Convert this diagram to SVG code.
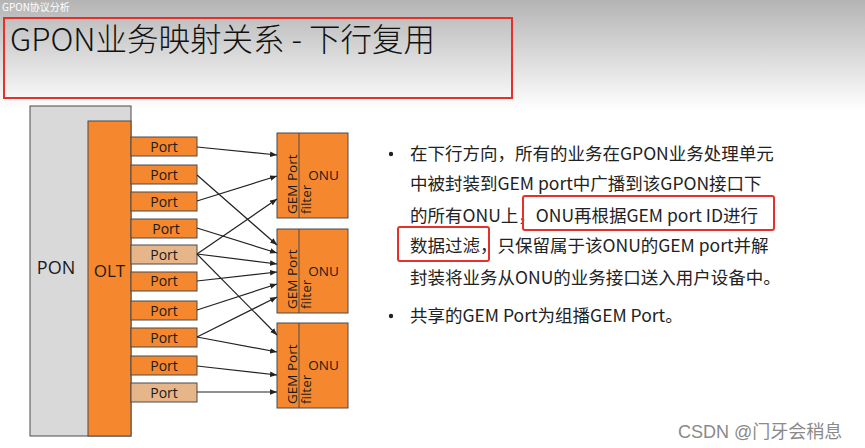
<svg xmlns="http://www.w3.org/2000/svg" width="865" height="448" viewBox="0 0 865 448">
<defs>
<linearGradient id="bg" x1="0" y1="0" x2="0" y2="1">
<stop offset="0" stop-color="#b4b4b4"/>
<stop offset="1" stop-color="#ffffff"/>
</linearGradient>
<marker id="ah" viewBox="0 0 10 10" refX="10" refY="5" markerWidth="7" markerHeight="7" markerUnits="userSpaceOnUse" orient="auto">
<path d="M0,1 L10,5 L0,9 z" fill="#222"/>
</marker>
<style>
.lbl{font-family:"Open Sans","Noto Sans",sans-serif;fill:#1a1a1a}
.port{fill:#f5882e;stroke:#4a4a4a;stroke-width:1}
.port2{fill:#e6b68a;stroke:#4a4a4a;stroke-width:1}
.onu{fill:#f5882e;stroke:#4a4a4a;stroke-width:1}
.pt{font-size:14px;text-anchor:middle}
.gem{font-size:13.5px}
.cn{font-family:"Noto Sans CJK SC","Noto Sans",sans-serif;font-size:17.5px;fill:#222}
.ar{stroke:#222;stroke-width:1.2;fill:none;marker-end:url(#ah)}
.hl{fill:none;stroke:#e8302a;stroke-width:2}
</style>
</defs>
<rect x="0" y="0" width="865" height="448" fill="#ffffff"/>
<rect x="0" y="0" width="865" height="110" fill="url(#bg)"/>
<text x="2" y="11" font-family="Noto Sans CJK SC,sans-serif" font-size="10" fill="#ffffff">GPON协议分析</text>

<g id="title">
<rect x="4" y="18" width="508" height="80" fill="none" stroke="#e8302a" stroke-width="2"/>
<text x="10" y="51" font-family="Noto Sans CJK SC,sans-serif" font-size="31.5" font-weight="300" fill="#111">GPON业务映射关系 - 下行复用</text>
</g>

<g id="pon">
<rect x="30" y="106" width="101" height="330" fill="#d9d9d9" stroke="#4a4a4a" stroke-width="1"/>
<text class="lbl" x="56" y="274" font-size="18" text-anchor="middle">PON</text>
</g>
<g id="olt">
<rect x="88" y="121" width="43" height="315" fill="#f5882e" stroke="#4a4a4a" stroke-width="1"/>
<text class="lbl" x="109.5" y="277" font-size="17" text-anchor="middle">OLT</text>
</g>

<g id="port1"><rect class="port" x="131" y="137" width="66" height="19"/><text class="lbl pt" x="164" y="151.5">Port</text></g>
<g id="port2"><rect class="port" x="131" y="165" width="66" height="19"/><text class="lbl pt" x="164" y="179.5">Port</text></g>
<g id="port3"><rect class="port" x="131" y="192" width="66" height="19"/><text class="lbl pt" x="164" y="206.5">Port</text></g>
<g id="port4"><rect class="port" x="131" y="219" width="66" height="19"/><text class="lbl pt" x="166" y="233.5">Port</text></g>
<g id="port5"><rect class="port2" x="131" y="245" width="66" height="19"/><text class="lbl pt" x="164" y="259.5">Port</text></g>
<g id="port6"><rect class="port" x="131" y="272" width="66" height="19"/><text class="lbl pt" x="164" y="285.5">Port</text></g>
<g id="port7"><rect class="port" x="131" y="301" width="66" height="19"/><text class="lbl pt" x="164" y="315.5">Port</text></g>
<g id="port8"><rect class="port" x="131" y="328" width="66" height="19"/><text class="lbl pt" x="164" y="342.5">Port</text></g>
<g id="port9"><rect class="port" x="131" y="356" width="66" height="19"/><text class="lbl pt" x="164" y="370.5">Port</text></g>
<g id="port10"><rect class="port2" x="131" y="383" width="66" height="19"/><text class="lbl pt" x="164" y="397.5">Port</text></g>

<g id="onu1">
<rect class="onu" x="277" y="133" width="71" height="85"/>
<line x1="299" y1="133" x2="299" y2="218" stroke="#4a4a4a"/>
<text class="lbl gem" transform="translate(297,214) rotate(-90)">GEM Port</text>
<text class="lbl gem" transform="translate(311,214) rotate(-90)">filter</text>
<text class="lbl" x="323.5" y="180" font-size="13.5" text-anchor="middle">ONU</text>
</g>
<g id="onu2">
<rect class="onu" x="277" y="229" width="71" height="84"/>
<line x1="299" y1="229" x2="299" y2="313" stroke="#4a4a4a"/>
<text class="lbl gem" transform="translate(297,309) rotate(-90)">GEM Port</text>
<text class="lbl gem" transform="translate(311,309) rotate(-90)">filter</text>
<text class="lbl" x="323.5" y="276" font-size="13.5" text-anchor="middle">ONU</text>
</g>
<g id="onu3">
<rect class="onu" x="277" y="323" width="71" height="85"/>
<line x1="299" y1="323" x2="299" y2="408" stroke="#4a4a4a"/>
<text class="lbl gem" transform="translate(297,404) rotate(-90)">GEM Port</text>
<text class="lbl gem" transform="translate(311,404) rotate(-90)">filter</text>
<text class="lbl" x="323.5" y="370" font-size="13.5" text-anchor="middle">ONU</text>
</g>

<g id="connectors">
<line class="ar" x1="197" y1="147" x2="277" y2="155"/>
<line class="ar" x1="197" y1="175" x2="277" y2="245"/>
<line class="ar" x1="197" y1="201" x2="277" y2="176"/>
<line class="ar" x1="197" y1="228" x2="277" y2="253"/>
<line class="ar" x1="197" y1="254" x2="277" y2="199"/>
<line class="ar" x1="197" y1="254" x2="277" y2="264"/>
<line class="ar" x1="197" y1="254" x2="277" y2="335"/>
<line class="ar" x1="197" y1="281" x2="277" y2="272"/>
<line class="ar" x1="197" y1="310" x2="277" y2="284"/>
<line class="ar" x1="197" y1="337" x2="277" y2="297"/>
<line class="ar" x1="197" y1="337" x2="277" y2="352"/>
<line class="ar" x1="197" y1="366" x2="277" y2="375"/>
<line class="ar" x1="197" y1="392" x2="277" y2="392"/>
</g>

<g id="text">
<circle cx="391" cy="154" r="2.2" fill="#222"/>
<text class="cn" x="410" y="160">在下行方向，所有的业务在GPON业务处理单元</text>
<text class="cn" x="410" y="190">中被封装到GEM port中广播到该GPON接口下</text>
<text class="cn" x="410" y="222">的所有ONU上，ONU再根据GEM port ID进行</text>
<text class="cn" x="410" y="252">数据过滤，只保留属于该ONU的GEM port并解</text>
<text class="cn" x="410" y="284">封装将业务从ONU的业务接口送入用户设备中。</text>
<circle cx="391" cy="316" r="2.2" fill="#222"/>
<text class="cn" x="410" y="322">共享的GEM Port为组播GEM Port。</text>
<rect class="hl" x="523" y="196" width="251" height="34" rx="2"/>
<rect class="hl" x="398" y="227" width="91" height="34" rx="2"/>
</g>

<text x="678" y="438" font-family="Liberation Sans,Noto Sans CJK SC,sans-serif" font-size="18" fill="#8a8a8a">CSDN @门牙会稍息</text>
</svg>
